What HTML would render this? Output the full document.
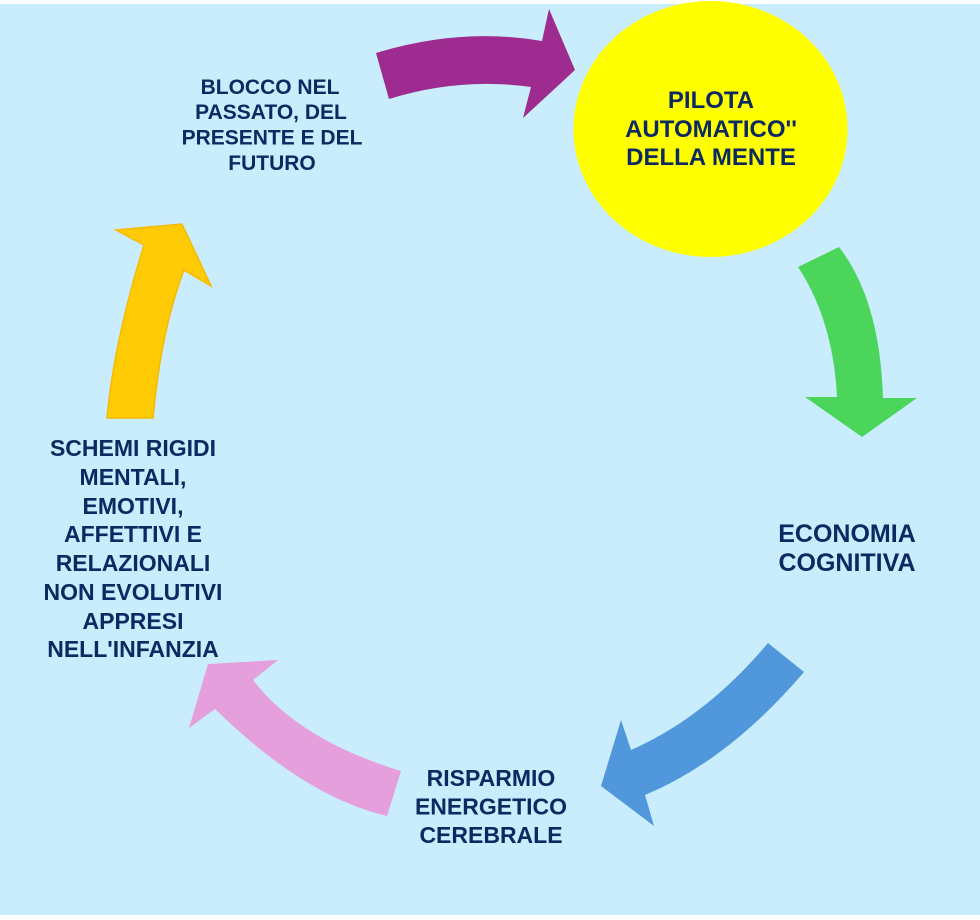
<!DOCTYPE html>
<html>
<head>
<meta charset="utf-8">
<style>
  html, body { margin: 0; padding: 0; background: #ffffff; }
  body { width: 980px; height: 920px; overflow: hidden; }
  svg { display: block; }
  text { font-family: "Liberation Sans", "DejaVu Sans", sans-serif; font-weight: bold; fill: #0c2961; }
</style>
</head>
<body>
<svg width="980" height="920" viewBox="0 0 980 920" xmlns="http://www.w3.org/2000/svg">
  <rect x="0" y="0" width="980" height="920" fill="#ffffff"/>
  <rect x="0" y="4" width="980" height="911" fill="#c9edfc"/>

  <!-- Yellow circle -->
  <ellipse cx="710.5" cy="129" rx="137" ry="128" fill="#ffff00"/>

  <!-- Purple arrow -->
  <path d="M376,53 Q461,27 542,41 L549,9 L575,70 L523,118 L531,87 Q460,77 389,99 Z" fill="#9e2b8f"/>

  <!-- Green arrow -->
  <path d="M798,267 L839,247 Q880,300 883,398 L917,398 L862,437 L805,397 L837,397 Q833,320 798,267 Z" fill="#4bd65b"/>

  <!-- Blue arrow -->
  <path d="M768,643 L804,672 Q729,760 645,795 L654,826 L601,786 L621,720 L631,750 Q706,717 768,643 Z" fill="#5097db"/>

  <!-- Pink arrow -->
  <path d="M401,771 L387,816 Q305,797 215,709 L189,728 L208,664 L278,660 L253,680 Q299,740 401,771 Z" fill="#e59fdc"/>

  <!-- Yellow/orange arrow -->
  <path d="M107,418 L153,418 Q161,330 184,270 L211,286 L182,224 L116,230 L144,245 Q114,342 107,418 Z" fill="#ffcb04" stroke="#f7b900" stroke-width="1.5" stroke-linejoin="miter"/>

  <!-- Circle text -->
  <text x="711" y="108" font-size="24" text-anchor="middle">PILOTA</text>
  <text x="711" y="137" font-size="24" text-anchor="middle">AUTOMATICO''</text>
  <text x="711" y="165" font-size="24" text-anchor="middle">DELLA MENTE</text>

  <!-- Top-left text -->
  <text x="270" y="94" font-size="21" text-anchor="middle">BLOCCO NEL</text>
  <text x="271" y="119" font-size="21" text-anchor="middle">PASSATO, DEL</text>
  <text x="272" y="144.5" font-size="21" text-anchor="middle">PRESENTE E DEL</text>
  <text x="272" y="170" font-size="21" text-anchor="middle">FUTURO</text>

  <!-- Right text -->
  <text x="847" y="542" font-size="25" text-anchor="middle">ECONOMIA</text>
  <text x="847" y="571" font-size="25" text-anchor="middle">COGNITIVA</text>

  <!-- Bottom text -->
  <text x="491" y="786" font-size="23" text-anchor="middle">RISPARMIO</text>
  <text x="491" y="814.5" font-size="23" text-anchor="middle">ENERGETICO</text>
  <text x="491" y="843" font-size="23" text-anchor="middle">CEREBRALE</text>

  <!-- Left text -->
  <text x="133" y="456" font-size="23" text-anchor="middle">SCHEMI RIGIDI</text>
  <text x="133" y="485" font-size="23" text-anchor="middle">MENTALI,</text>
  <text x="133" y="514" font-size="23" text-anchor="middle">EMOTIVI,</text>
  <text x="133" y="542" font-size="23" text-anchor="middle">AFFETTIVI E</text>
  <text x="133" y="571" font-size="23" text-anchor="middle">RELAZIONALI</text>
  <text x="133" y="600" font-size="23" text-anchor="middle">NON EVOLUTIVI</text>
  <text x="133" y="629" font-size="23" text-anchor="middle">APPRESI</text>
  <text x="133" y="657" font-size="23" text-anchor="middle">NELL'INFANZIA</text>
</svg>
</body>
</html>
